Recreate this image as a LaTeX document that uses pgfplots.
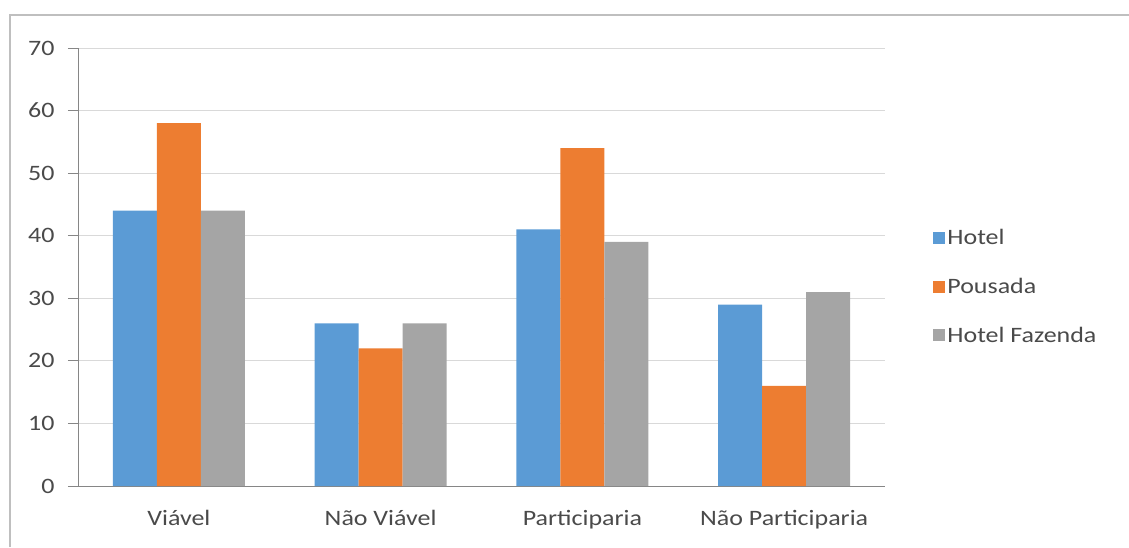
\documentclass[border=0pt]{standalone}
\usepackage{fontspec}
\setmainfont{Carlito}[FakeStretch=1.18]
\usepackage{pgfplots}
\pgfplotsset{compat=1.18}
\definecolor{cHotel}{HTML}{5B9BD5}
\definecolor{cPousada}{HTML}{ED7D31}
\definecolor{cFazenda}{HTML}{A5A5A5}
\definecolor{txt}{HTML}{4A4A4A}
\definecolor{gridc}{HTML}{D9D9D9}
\definecolor{axc}{HTML}{868686}
\definecolor{framec}{HTML}{BFBFBF}
\begin{document}
\begin{tikzpicture}[x=1pt,y=1pt]
\path[use as bounding box] (0,0) rectangle (1129,547);
\draw[framec, line width=2pt] (10,0) -- (10,532) -- (1129,532);
\begin{axis}[
  at={(78pt,61pt)}, anchor=south west,
  scale only axis, width=807pt, height=438pt,
  ybar=0pt, bar width=44pt,
  xmin=-0.5, xmax=3.5, ymin=0, ymax=70,
  xtick={0,1,2,3},
  xticklabels={Viável, Não Viável, Participaria, Não Participaria},
  ytick={0,10,...,70},
  axis x line*=bottom, axis y line*=left,
  axis line style={axc, line width=1pt},
  ymajorgrids, grid style={gridc, line width=1pt},
  tick align=outside,
  major tick length=10pt,
  tick style={axc, line width=1pt},
  x tick style={draw=none},
  extra x ticks={-0.5,0.5,1.5,2.5,3.5},
  extra x tick labels={},
  extra x tick style={grid=none, tick style={axc, line width=1pt, draw=axc}, major tick length=10pt},
  /pgf/number format/assume math mode=true,
  tick label style={font=\fontsize{22}{26}\selectfont, text=txt},
  yticklabel style={xshift=-10pt},
  xticklabel style={yshift=-11pt},
  legend style={draw=none, fill=none, at={(1.056,0.455)}, anchor=west,
    font=\fontsize{22}{26}\selectfont, text=txt, row sep=28pt,
    legend cell align=left},
  legend image code/.code={\fill[#1] (0pt,-6pt) rectangle (12pt,6pt);},
]
\addplot[fill=cHotel, draw=none] coordinates {(0,44) (1,26) (2,41) (3,29)};
\addplot[fill=cPousada, draw=none] coordinates {(0,58) (1,22) (2,54) (3,16)};
\addplot[fill=cFazenda, draw=none] coordinates {(0,44) (1,26) (2,39) (3,31)};
\legend{Hotel, Pousada, Hotel Fazenda}
\end{axis}
\end{tikzpicture}
\end{document}
